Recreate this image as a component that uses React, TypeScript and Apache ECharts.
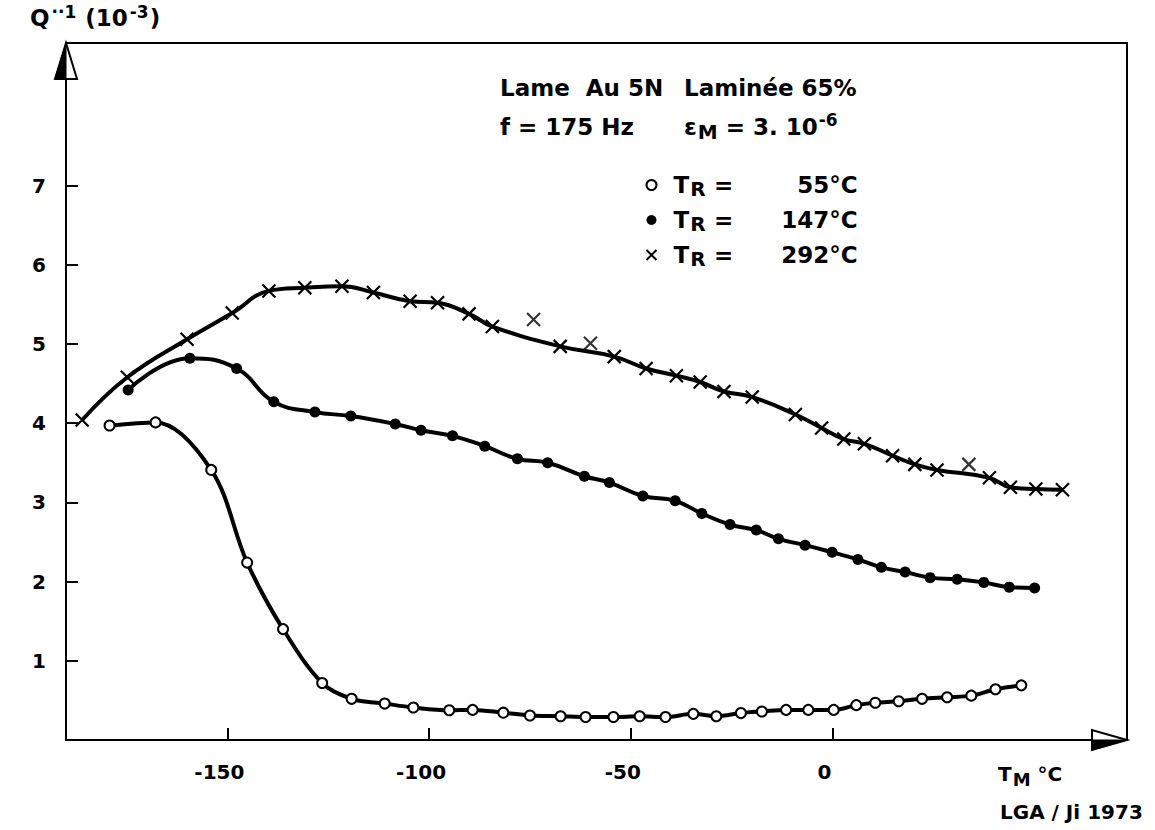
import React, { useEffect, useRef } from "react";
import * as echarts from "echarts";

// ---- data ----
const xTicks = [-150, -100, -50, 0];
const yTicks = [1, 2, 3, 4, 5, 6, 7];

const seriesNames = ["TR = 55°C", "TR = 147°C", "TR = 292°C"];
const seriesTemps = ["55°C", "147°C", "292°C"];

const tR55X = [-179.2, -167.8, -154, -145.1, -136.2, -126.5, -119.2, -111, -103.9, -95, -89.2, -81.6, -75, -67.4, -61.2, -54.3, -47.8, -41.4, -34.5, -28.8, -22.7, -17.5, -11.5, -6, 0.3, 5.9, 10.6, 16.4, 22.2, 28.4, 34.4, 40.4, 46.8];
const tR55Y = [3.97, 4.01, 3.41, 2.24, 1.4, 0.72, 0.52, 0.46, 0.41, 0.375, 0.38, 0.345, 0.31, 0.3, 0.29, 0.29, 0.3, 0.29, 0.33, 0.3, 0.34, 0.36, 0.38, 0.38, 0.38, 0.44, 0.47, 0.49, 0.52, 0.54, 0.56, 0.64, 0.69];

const tR147X = [-174.6, -159.3, -147.7, -138.5, -128.3, -119.4, -108.4, -102, -94.2, -86.2, -78.1, -70.6, -61.5, -55.3, -47, -39, -32.4, -25.4, -18.9, -13.4, -6.8, -0.1, 6.3, 12.1, 18, 24.2, 30.9, 37.5, 43.8, 50.1];
const tR147Y = [4.42, 4.82, 4.69, 4.27, 4.14, 4.09, 3.99, 3.91, 3.84, 3.71, 3.55, 3.5, 3.33, 3.25, 3.08, 3.02, 2.86, 2.72, 2.65, 2.54, 2.46, 2.37, 2.28, 2.18, 2.12, 2.05, 2.03, 1.99, 1.93, 1.92];

// crosses on the drawn curve
const tR292X = [-186, -174.8, -160, -148.8, -139.7, -130.8, -121.6, -113.8, -104.7, -97.9, -90.1, -84.3, -67.5, -54.1, -46.2, -38.7, -32.8, -26.9, -19.9, -9.2, -2.7, 2.8, 7.9, 14.9, 20.4, 25.9, 38.9, 44.1, 50.4, 57];
const tR292Y = [4.04, 4.58, 5.06, 5.39, 5.67, 5.71, 5.73, 5.65, 5.54, 5.52, 5.38, 5.22, 4.97, 4.84, 4.69, 4.6, 4.52, 4.4, 4.33, 4.11, 3.94, 3.8, 3.74, 3.59, 3.48, 3.41, 3.31, 3.19, 3.17, 3.16];
// crosses lying off the drawn curve
const tR292OffX = [-74.1, -60, 33.8];
const tR292OffY = [5.31, 5.01, 3.48];

const zip = (xs: number[], ys: number[]) => xs.map((x, i) => [x, ys[i]]);

const FONT = "DejaVu Sans";
const CROSS = "path://M0 0L10 10M10 0L0 10";

export default function App() {
  const ref = useRef<HTMLDivElement>(null);

  useEffect(() => {
    if (!ref.current) return;
    const chart = echarts.init(ref.current, undefined, { renderer: "svg" });

    const gridL = 66, gridR = 28, gridT = 43, gridB = 90;
    const W = 1155, H = 830;
    const xRight = W - gridR, yBottom = H - gridB;

    const lineStyle = { color: "#000", width: 4 };
    const col2 = 684;
    const legText = 666;

    chart.setOption({
      animation: false,
      backgroundColor: "#fff",
      textStyle: { fontFamily: FONT, color: "#000", fontWeight: "bold" },
      grid: { left: gridL, right: gridR, top: gridT, bottom: gridB, show: true, borderColor: "#000", borderWidth: 2 },
      xAxis: {
        type: "value",
        min: -190,
        max: 73,
        axisLine: { show: true, onZero: false, lineStyle: { color: "#000", width: 2 } },
        axisTick: { show: true, inside: true, length: 12, customValues: xTicks, lineStyle: { color: "#000", width: 2 } },
        axisLabel: { customValues: xTicks, margin: 22, fontSize: 20, fontWeight: "bold", color: "#000", fontFamily: FONT, padding: [0, 16, 0, 0] },
        splitLine: { show: false },
      },
      yAxis: {
        type: "value",
        min: 0,
        max: 8.8,
        axisLine: { show: true, onZero: false, lineStyle: { color: "#000", width: 2 } },
        axisTick: { show: true, inside: true, length: 12, customValues: yTicks, lineStyle: { color: "#000", width: 2 } },
        axisLabel: { customValues: yTicks, margin: 20, fontSize: 20, fontWeight: "bold", color: "#000", fontFamily: FONT },
        splitLine: { show: false },
      },
      legend: {
        orient: "vertical",
        left: legText - 27,
        top: 166,
        itemWidth: 10,
        itemHeight: 10,
        itemGap: 7,
        selectedMode: false,
        data: [
          { name: seriesNames[0], icon: "circle", itemStyle: { color: "#fff", borderColor: "#000", borderWidth: 2 } },
          { name: seriesNames[1], icon: "circle", itemStyle: { color: "#000", borderColor: "#000", borderWidth: 0 } },
          { name: seriesNames[2], icon: CROSS, itemStyle: { color: "none", borderColor: "#000", borderWidth: 2 } },
        ],
        formatter: (name: string) => {
          const i = seriesNames.indexOf(name);
          return `{t|T}{s|R}{eq|=}{v|${seriesTemps[i]}}`;
        },
        textStyle: {
          fontFamily: FONT,
          fontWeight: "bold",
          color: "#000",
          fontSize: 23,
          lineHeight: 24,
          rich: {
            t: { fontSize: 23, fontWeight: "bold", fontFamily: FONT, padding: [0, 0, 0, 12], lineHeight: 24 },
            s: { fontSize: 20, fontWeight: "bold", fontFamily: FONT, padding: [8, 0, 0, 1], lineHeight: 24 },
            eq: { fontSize: 23, fontWeight: "bold", fontFamily: FONT, width: 36, align: "center", lineHeight: 24 },
            v: { fontSize: 23, fontWeight: "bold", fontFamily: FONT, width: 116, align: "right", lineHeight: 24 },
          },
        },
      },
      series: [
        {
          name: seriesNames[0],
          type: "line",
          smooth: 0.35,
          data: zip(tR55X, tR55Y),
          symbol: "circle",
          symbolSize: 10,
          lineStyle,
          itemStyle: { color: "#fff", borderColor: "#000", borderWidth: 2 },
          z: 3,
        },
        {
          name: seriesNames[1],
          type: "line",
          smooth: 0.45,
          data: zip(tR147X, tR147Y),
          symbol: "circle",
          symbolSize: 11,
          lineStyle,
          itemStyle: { color: "#000", borderColor: "#000", borderWidth: 0 },
          z: 3,
        },
        {
          name: seriesNames[2],
          type: "line",
          smooth: 0.45,
          data: zip(tR292X, tR292Y),
          symbol: CROSS,
          symbolSize: 13,
          lineStyle,
          itemStyle: { color: "none", borderColor: "#000", borderWidth: 2.2 },
          z: 3,
        },
        {
          name: seriesNames[2],
          type: "scatter",
          data: zip(tR292OffX, tR292OffY),
          symbol: CROSS,
          symbolSize: 13,
          itemStyle: { color: "none", borderColor: "#000", borderWidth: 2.2 },
          z: 3,
        },
      ],
      graphic: [
        // arrow heads
        { type: "polygon", shape: { points: [[gridL, gridT], [gridL - 11, gridT + 36], [gridL + 11, gridT + 36]] }, style: { fill: "#fff", stroke: "#000", lineWidth: 2 }, z: 10 },
        { type: "polygon", shape: { points: [[gridL, gridT], [gridL - 11, gridT + 36], [gridL, gridT + 36]] }, style: { fill: "#000", stroke: "#000", lineWidth: 1 }, z: 11 },
        { type: "polygon", shape: { points: [[xRight, yBottom], [xRight - 35, yBottom - 10], [xRight - 35, yBottom + 10]] }, style: { fill: "#fff", stroke: "#000", lineWidth: 2 }, z: 10 },
        { type: "polygon", shape: { points: [[xRight, yBottom], [xRight - 35, yBottom], [xRight - 35, yBottom + 10]] }, style: { fill: "#000", stroke: "#000", lineWidth: 1 }, z: 11 },
        // axis names
        {
          type: "text", x: 30, y: 18,
          style: {
            text: "{a|Q}{p|··1}{a| (10}{p|-3}{a|)}", verticalAlign: "middle", fill: "#000",
            rich: {
              a: { fontSize: 23, fontWeight: "bold", fontFamily: FONT, lineHeight: 28 },
              p: { fontSize: 17, fontWeight: "bold", fontFamily: FONT, padding: [0, 1, 12, 2], lineHeight: 28 },
            },
          },
        },
        {
          type: "text", x: 998, y: 774,
          style: {
            text: "{a|T}{b|M}{a| °C}", verticalAlign: "middle", fill: "#000",
            rich: {
              a: { fontSize: 20, fontWeight: "bold", fontFamily: FONT, lineHeight: 26 },
              b: { fontSize: 18, fontWeight: "bold", fontFamily: FONT, padding: [10, 0, 0, 1], lineHeight: 26 },
            },
          },
        },
        { type: "text", x: 1000, y: 812, style: { text: "LGA / Ji 1973", font: `bold 20px "${FONT}"`, fill: "#000", verticalAlign: "middle" } },
        // header annotations
        { type: "text", x: 500, y: 88, style: { text: "Lame  Au 5N", font: `bold 23px "${FONT}"`, fill: "#000", verticalAlign: "middle" } },
        { type: "text", x: col2, y: 88, style: { text: "Laminée 65%", font: `bold 23px "${FONT}"`, fill: "#000", verticalAlign: "middle" } },
        { type: "text", x: 500, y: 127, style: { text: "f = 175 Hz", font: `bold 23px "${FONT}"`, fill: "#000", verticalAlign: "middle" } },
        {
          type: "text", x: col2, y: 127,
          style: {
            text: "{a|ε}{b|M}{a| = 3. 10}{c|-6}", verticalAlign: "middle", fill: "#000",
            rich: {
              a: { fontSize: 23, fontWeight: "bold", fontFamily: FONT, lineHeight: 28 },
              b: { fontSize: 20, fontWeight: "bold", fontFamily: FONT, padding: [10, 0, 0, 1], lineHeight: 28 },
              c: { fontSize: 17, fontWeight: "bold", fontFamily: FONT, padding: [0, 0, 14, 1], lineHeight: 28 },
            },
          },
        },
      ],
    });

    return () => chart.dispose();
  }, []);

  return <div ref={ref} style={{ position: "fixed", left: 0, top: 0, width: 1155, height: 830 }} />;
}
